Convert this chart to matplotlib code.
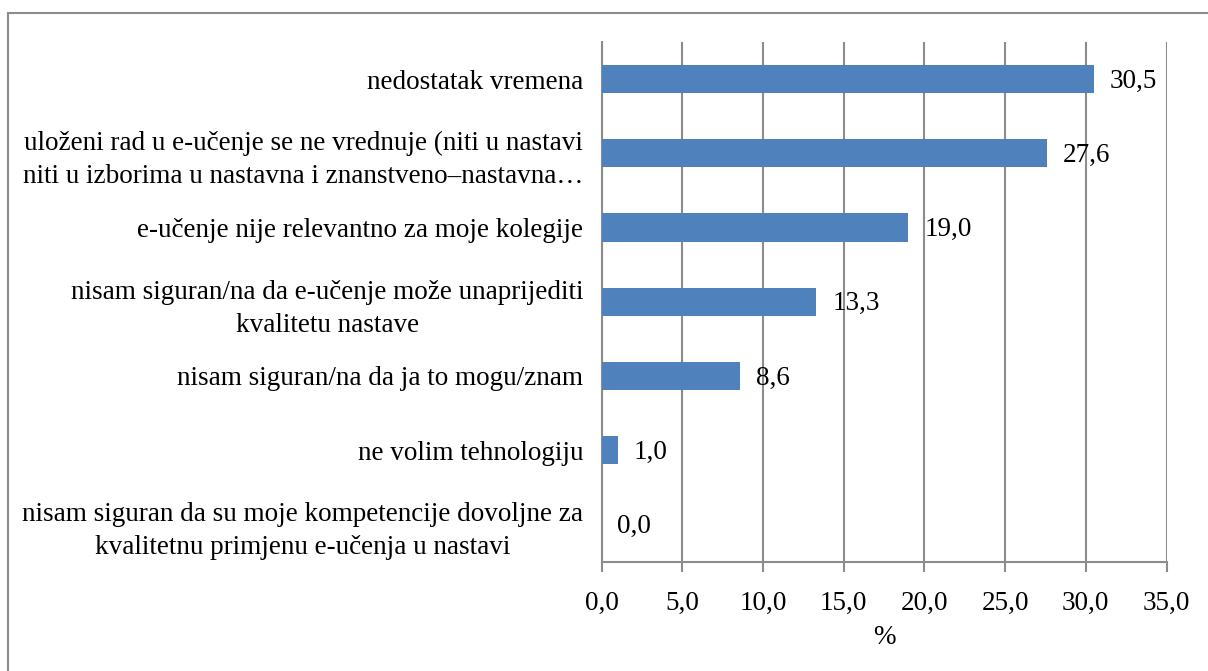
import matplotlib
matplotlib.use("Agg")
import matplotlib.pyplot as plt
from matplotlib.patches import Rectangle

categories = [
    "nedostatak vremena",
    "uloženi rad u e-učenje se ne vrednuje (niti u nastavi\nniti u izborima u nastavna i znanstveno–nastavna…",
    "e-učenje nije relevantno za moje kolegije",
    "nisam siguran/na da e-učenje može unaprijediti\nkvalitetu nastave",
    "nisam siguran/na da ja to mogu/znam",
    "ne volim tehnologiju",
    "nisam siguran da su moje kompetencije dovoljne za\nkvalitetnu primjenu e-učenja u nastavi",
]
values = [30.5, 27.6, 19.0, 13.3, 8.6, 1.0, 0.0]
xticks = [0, 5, 10, 15, 20, 25, 30, 35]

plt.rcParams['font.family'] = ['Liberation Serif', 'DejaVu Serif']
FS = 19.5

W, H = 1208, 671
fig = plt.figure(figsize=(W / 100, H / 100), dpi=100)
fig.patches.append(Rectangle((8 / W, -0.1), 1.2, (H - 13) / H + 0.1,
                             transform=fig.transFigure, fill=False,
                             edgecolor='#8c8c8c', linewidth=1.5))

ax = fig.add_axes([601.5 / W, (H - 561.5) / H, (1166.5 - 601.5) / W, (561.5 - 42) / H])

n = len(categories)
ypos = list(range(n))
ax.barh(ypos, values, height=0.38, color='#4F81BD', zorder=3)
ax.set_ylim(n - 0.5, -0.5)
ax.set_xlim(0, 35)
ax.set_xticks(xticks)
ax.set_xticklabels([f"{t:.1f}".replace('.', ',') for t in xticks], fontsize=FS)
ax.set_yticks(ypos)
ax.set_yticklabels(categories, fontsize=FS, multialignment='center')
for lab in ax.get_yticklabels():
    lab.set_linespacing(1.42)
ax.tick_params(axis='y', length=0, pad=13)
ax.tick_params(axis='x', length=7, width=1.5, color='#8c8c8c', pad=14)
ax.grid(axis='x', color='#8c8c8c', linewidth=1.5, zorder=0)

for s in ['top', 'right']:
    ax.spines[s].set_visible(False)
for s in ['left', 'bottom']:
    ax.spines[s].set_color('#8c8c8c')
    ax.spines[s].set_linewidth(1.5)

for y, v in zip(ypos, values):
    ax.annotate(f"{v:.1f}".replace('.', ','), (v, y), xytext=(16, -2),
                textcoords='offset pixels', va='center', ha='left', fontsize=FS)

ax.set_xlabel('%', fontsize=FS, labelpad=7)

fig.savefig('out.png', dpi=100)
